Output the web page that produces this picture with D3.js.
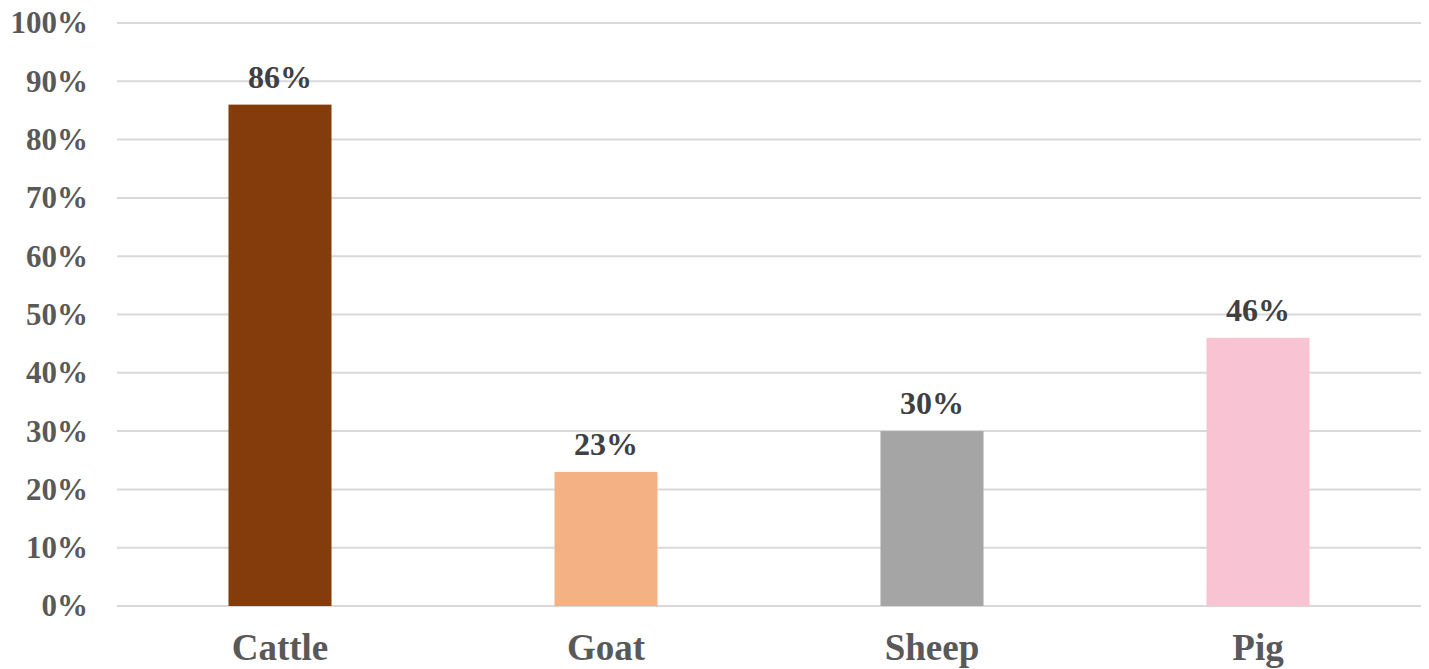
<!DOCTYPE html>
<html>
<head>
<meta charset="utf-8">
<script src="https://cdn.jsdelivr.net/npm/d3@7"></script>
<style>
  body { margin: 0; background: #fff; }
  text { font-family: "Liberation Serif", "Times New Roman", serif; font-weight: bold; }
</style>
</head>
<body>
<div id="chart"></div>
<script>
// data
var categories = ["Cattle", "Goat", "Sheep", "Pig"];
var values = [0.86, 0.23, 0.30, 0.46];
var labels = ["86%", "23%", "30%", "46%"];
var colors = ["#843c0c", "#f4b183", "#a5a5a5", "#f8c3d3"];
var yTicks = [0, 0.1, 0.2, 0.3, 0.4, 0.5, 0.6, 0.7, 0.8, 0.9, 1.0];

var W = 1429, H = 669;
var margin = {top: 23, right: 8, bottom: 63, left: 117};
var width = W - margin.left - margin.right,
    height = H - margin.top - margin.bottom;

var svg = d3.select("#chart").append("svg")
    .attr("width", W)
    .attr("height", H)
  .append("g")
    .attr("transform", "translate(" + margin.left + "," + margin.top + ")");

var x = d3.scaleBand()
    .domain(categories)
    .range([0, width])
    .paddingInner(0.684)
    .paddingOuter(0.342);

var y = d3.scaleLinear()
    .domain([0, 1])
    .range([height, 0]);

// gridlines
svg.append("g")
    .selectAll("line")
    .data(yTicks)
    .enter().append("line")
      .attr("x1", 0)
      .attr("x2", width)
      .attr("y1", function(d) { return y(d); })
      .attr("y2", function(d) { return y(d); })
      .style("stroke", "#d9d9d9")
      .style("stroke-width", 2);

// y axis labels
var yAxis = svg.append("g")
    .call(d3.axisLeft(y).tickValues(yTicks).tickFormat(d3.format(".0%")).tickSize(0).tickPadding(29));
yAxis.select(".domain").remove();
yAxis.selectAll("text")
    .style("font-size", "31px")
    .style("fill", "#595959")
    .style("font-family", "'Liberation Serif', serif")
    .style("font-weight", "bold");

// bars
svg.append("g")
  .selectAll("rect")
  .data(categories)
  .enter().append("rect")
    .attr("x", function(d) { return x(d); })
    .attr("y", function(d, i) { return y(values[i]); })
    .attr("width", x.bandwidth())
    .attr("height", function(d, i) { return height - y(values[i]); })
    .style("fill", function(d, i) { return colors[i]; });

// value labels
svg.append("g")
  .selectAll("text")
  .data(categories)
  .enter().append("text")
    .attr("x", function(d) { return x(d) + x.bandwidth() / 2; })
    .attr("y", function(d, i) { return y(values[i]) - 17; })
    .attr("text-anchor", "middle")
    .style("font-size", "32px")
    .style("fill", "#404040")
    .text(function(d, i) { return labels[i]; });

// x axis labels
var xAxis = svg.append("g")
    .attr("transform", "translate(0," + height + ")")
    .call(d3.axisBottom(x).tickSize(0).tickPadding(28));
xAxis.select(".domain").remove();
xAxis.selectAll("text")
    .style("font-size", "37px")
    .style("fill", "#595959")
    .style("font-family", "'Liberation Serif', serif")
    .style("font-weight", "bold");
</script>
</body>
</html>
